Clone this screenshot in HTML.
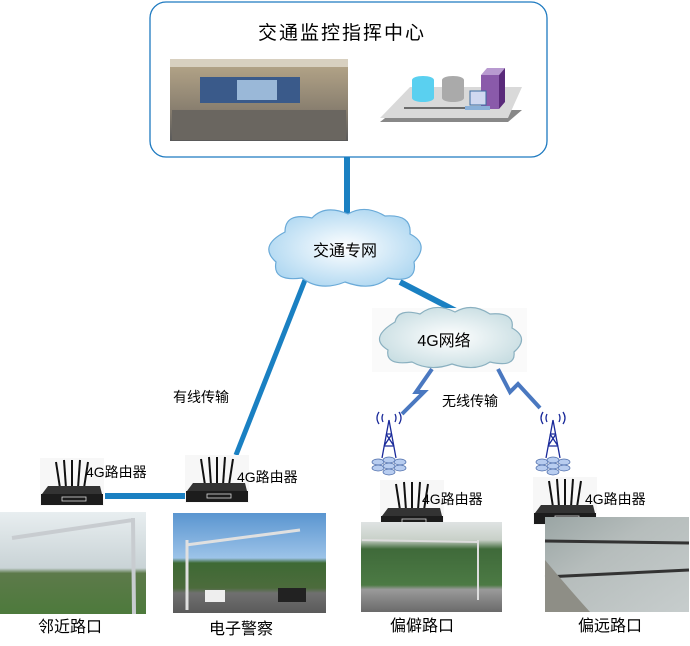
<!DOCTYPE html>
<html><head><meta charset="utf-8"><style>
body{margin:0;background:#fff;width:690px;height:641px;overflow:hidden}
svg text{font-family:"Liberation Sans","Noto Sans CJK SC",sans-serif;fill:#000}
</style></head><body>
<svg width="690" height="641" viewBox="0 0 690 641" xmlns="http://www.w3.org/2000/svg">
<defs>
<linearGradient id="sky1" x1="0" y1="0" x2="0" y2="1"><stop offset="0" stop-color="#e8eef0"/><stop offset="0.55" stop-color="#c9d3d6"/><stop offset="0.6" stop-color="#5d7a4a"/><stop offset="1" stop-color="#4d7a3c"/></linearGradient>
<linearGradient id="sky2" x1="0" y1="0" x2="0" y2="1"><stop offset="0" stop-color="#5a95d0"/><stop offset="0.45" stop-color="#9cc3e8"/><stop offset="0.5" stop-color="#3e6a34"/><stop offset="0.75" stop-color="#4c6b3c"/><stop offset="0.8" stop-color="#707070"/><stop offset="1" stop-color="#5a5a5a"/></linearGradient>
<linearGradient id="sky3" x1="0" y1="0" x2="0" y2="1"><stop offset="0" stop-color="#dfe3e3"/><stop offset="0.2" stop-color="#c8d0c8"/><stop offset="0.3" stop-color="#3f6a3a"/><stop offset="0.7" stop-color="#4c7a44"/><stop offset="0.75" stop-color="#9a9a9a"/><stop offset="1" stop-color="#6a6a6a"/></linearGradient>
<linearGradient id="sky4" x1="0" y1="0" x2="1" y2="1"><stop offset="0" stop-color="#9aa5a4"/><stop offset="0.4" stop-color="#b6bdbc"/><stop offset="1" stop-color="#c7cdcd"/></linearGradient>
<linearGradient id="room" x1="0" y1="0" x2="0" y2="1"><stop offset="0" stop-color="#b8a88a"/><stop offset="0.6" stop-color="#8a8070"/><stop offset="1" stop-color="#5a5a5a"/></linearGradient>
<radialGradient id="cloud" cx="0.5" cy="0.5" r="0.6"><stop offset="0" stop-color="#ffffff"/><stop offset="1" stop-color="#a8d4f0"/></radialGradient>
<radialGradient id="cloud2" cx="0.5" cy="0.5" r="0.6"><stop offset="0" stop-color="#ffffff"/><stop offset="1" stop-color="#c4dbe0"/></radialGradient>
<g id="router">
<rect x="0" y="0" width="64" height="48" fill="#f7f7f7"/>
<line x1="16" y1="4" x2="20" y2="30" stroke="#111" stroke-width="2"/>
<line x1="24" y1="2" x2="26" y2="30" stroke="#111" stroke-width="2"/>
<line x1="32" y1="2" x2="32" y2="30" stroke="#111" stroke-width="2"/>
<line x1="40" y1="2" x2="38" y2="30" stroke="#111" stroke-width="2"/>
<line x1="48" y1="4" x2="44" y2="30" stroke="#111" stroke-width="2"/>
<path d="M2 36 L8 28 L60 28 L62 36 Z" fill="#333"/>
<rect x="1" y="36" width="62" height="11" fill="#1c1c1c"/>
<rect x="22" y="39" width="24" height="4" fill="none" stroke="#ddd" stroke-width="0.8"/>
</g>
<g id="tower">
<path d="M-10 6 Q-14 0 -10 -6 M10 6 Q14 0 10 -6 M-6 4 Q-8 0 -6 -4 M6 4 Q8 0 6 -4" stroke="#1a2a9a" fill="none" stroke-width="1.3"/>
<path d="M0 2 L-7 40 M0 2 L7 40 M-3 16 L3 16 M-5 28 L5 28 M-3 16 L5 28 M3 16 L-5 28" stroke="#1a2a9a" fill="none" stroke-width="1.3"/>
<g fill="#b8cdf0" stroke="#4a6aa8" stroke-width="0.7">
<ellipse cx="-11" cy="44" rx="6" ry="3"/><ellipse cx="11" cy="44" rx="6" ry="3"/><ellipse cx="0" cy="42" rx="6" ry="3"/>
<ellipse cx="-11" cy="50" rx="6" ry="3"/><ellipse cx="11" cy="50" rx="6" ry="3"/><ellipse cx="0" cy="48" rx="6" ry="3"/>
<ellipse cx="0" cy="54" rx="6" ry="3"/>
</g>
</g>
</defs>

<rect x="150" y="2" width="397" height="155" rx="16" fill="#fff" stroke="#1e7ac0" stroke-width="1.3"/>
<text x="342" y="39" font-size="19" letter-spacing="2" text-anchor="middle">交通监控指挥中心</text>
<rect x="170" y="59" width="178" height="82" fill="url(#room)"/>
<rect x="200" y="77" width="100" height="26" fill="#3a5a8a"/>
<rect x="237" y="80" width="40" height="20" fill="#9ab8d8"/>
<rect x="172" y="110" width="174" height="30" fill="#6a6660"/>
<rect x="170" y="59" width="178" height="8" fill="#d8d0c0"/>
<path d="M380 122 L395 110 L522 110 L508 122 Z" fill="#888"/>
<path d="M380 118 L410 87 L522 87 L508 118 Z" fill="#d9d9d9"/>
<line x1="404" y1="108" x2="478" y2="108" stroke="#000"/>
<ellipse cx="423" cy="80" rx="11" ry="4" fill="#5ad0f0"/>
<rect x="412" y="80" width="22" height="18" fill="#5ad0f0"/>
<ellipse cx="423" cy="98" rx="11" ry="4" fill="#5ad0f0"/>
<ellipse cx="453" cy="80" rx="11" ry="4" fill="#aaa"/>
<rect x="442" y="80" width="22" height="18" fill="#aaa"/>
<ellipse cx="453" cy="98" rx="11" ry="4" fill="#aaa"/>
<rect x="481" y="75" width="18" height="34" fill="#8a5aaa"/>
<path d="M481 75 L487 68 L505 68 L499 75 Z" fill="#b89ad0"/><path d="M499 75 L505 68 L505 102 L499 109Z" fill="#5a2a7a"/>
<rect x="470" y="91" width="16" height="14" fill="#d0d8f0" stroke="#3a6aa0"/>
<rect x="465" y="106" width="25" height="4" fill="#8ab0d8"/>

<line x1="347" y1="157" x2="347" y2="222" stroke="#1a80c2" stroke-width="6"/>
<line x1="305" y1="280" x2="236" y2="455" stroke="#1a80c2" stroke-width="5"/>
<line x1="400" y1="282" x2="458" y2="312" stroke="#1a80c2" stroke-width="6"/>
<line x1="105" y1="496" x2="186" y2="496" stroke="#1a80c2" stroke-width="6"/>

<path d="M285 232 Q285 212 312 218 Q325 204 348 214 Q365 204 385 216 Q412 214 410 234 Q430 244 414 262 Q418 284 388 278 Q372 292 345 282 Q320 292 302 278 Q272 282 276 262 Q258 246 285 232 Z" fill="url(#cloud)" stroke="#6aaad8" stroke-width="1.2"/>
<text x="345" y="256" font-size="16" text-anchor="middle">交通专网</text>
<rect x="372" y="308" width="155" height="64" fill="#fafafa"/>
<path d="M395 322 Q398 308 420 314 Q435 302 455 312 Q472 302 490 314 Q515 312 512 328 Q530 338 514 352 Q516 368 490 362 Q475 372 452 364 Q430 372 412 362 Q385 366 388 350 Q368 338 395 322 Z" fill="url(#cloud2)" stroke="#8ab0c0" stroke-width="1.2"/>
<text x="444" y="346" font-size="16" text-anchor="middle">4G网络</text>

<polyline points="432,369 416,392 424,392 402,414" fill="none" stroke="#4a78c0" stroke-width="4" stroke-linejoin="miter"/>
<polyline points="498,369 510,392 518,384 540,408" fill="none" stroke="#4a78c0" stroke-width="4" stroke-linejoin="miter"/>
<text x="470" y="406" font-size="14" text-anchor="middle">无线传输</text>
<text x="201" y="402" font-size="14" text-anchor="middle">有线传输</text>

<use href="#tower" x="389" y="418"/>
<use href="#tower" x="553" y="418"/>

<use href="#router" x="40" y="458"/>
<use href="#router" x="185" y="455"/>
<use href="#router" x="380" y="480"/>
<use href="#router" x="533" y="477"/>
<text x="86" y="477" font-size="14">4G路由器</text>
<text x="237" y="482" font-size="14">4G路由器</text>
<text x="422" y="504" font-size="14">4G路由器</text>
<text x="585" y="504" font-size="14">4G路由器</text>

<rect x="0" y="512" width="146" height="102" fill="url(#sky1)"/>
<path d="M12 538 L133 520 M133 518 L134 614" stroke="#c8ccd0" stroke-width="4" fill="none"/>
<rect x="173" y="513" width="153" height="100" fill="url(#sky2)"/>
<path d="M186 545 L300 530 M187 540 L187 610" stroke="#e0e0e0" stroke-width="3" fill="none"/>
<rect x="205" y="590" width="20" height="12" fill="#eee"/><rect x="278" y="588" width="28" height="14" fill="#222"/>
<rect x="361" y="522" width="141" height="90" fill="url(#sky3)"/>
<path d="M362 540 L478 542 M478 540 L478 600" stroke="#ddd" stroke-width="2" fill="none"/>
<rect x="545" y="517" width="144" height="95" fill="url(#sky4)"/>
<path d="M545 541 L689 543 M545 577 L689 570" stroke="#333" stroke-width="3" fill="none"/>
<path d="M545 560 Q570 590 590 612 L545 612 Z" fill="#8e8e86"/>

<text x="70" y="632" font-size="16" text-anchor="middle">邻近路口</text>
<text x="241" y="634" font-size="16" text-anchor="middle">电子警察</text>
<text x="422" y="631" font-size="16" text-anchor="middle">偏僻路口</text>
<text x="610" y="631" font-size="16" text-anchor="middle">偏远路口</text>
</svg>
</body></html>
